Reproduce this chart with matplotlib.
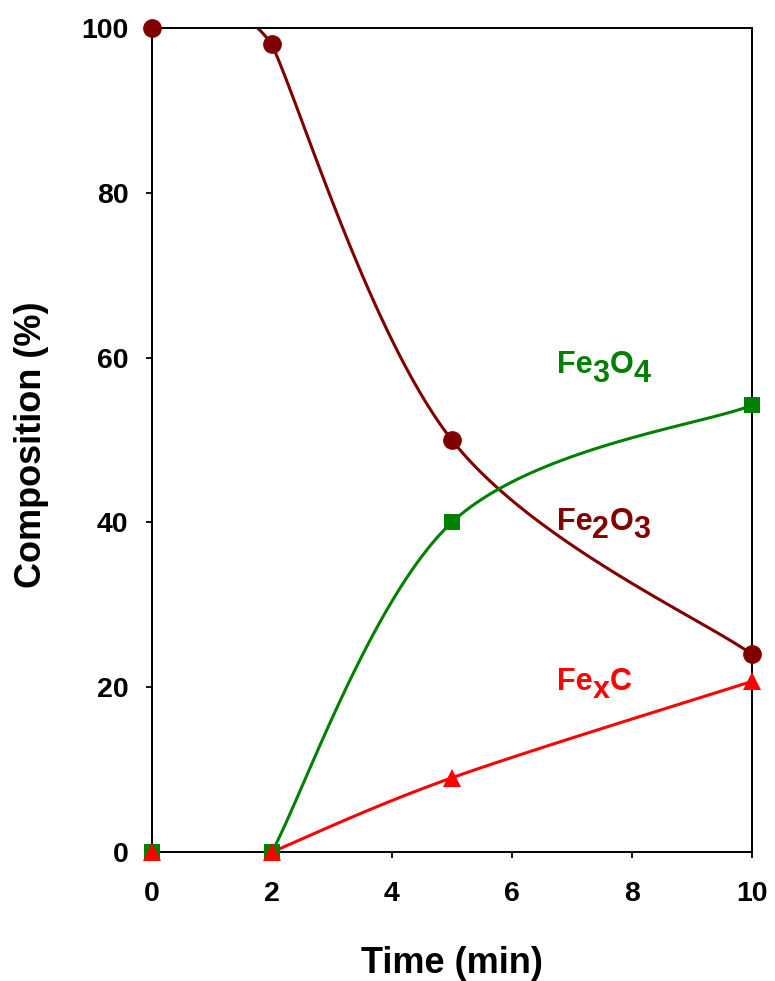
import numpy as np
import matplotlib
matplotlib.use("Agg")
import matplotlib.pyplot as plt

plt.rcParams['font.family'] = ['Liberation Sans', 'DejaVu Sans']
plt.rcParams['font.weight'] = 'bold'

time = [0, 2, 5, 10]
fe2o3 = [100, 98, 50, 24]
fe3o4 = [0, 0, 40, 54.2]
fexc = [0, 0, 9, 20.7]

labels = {
    'Fe2O3': [("Fe", 0), ("2", 1), ("O", 0), ("3", 1)],
    'Fe3O4': [("Fe", 0), ("3", 1), ("O", 0), ("4", 1)],
    'FexC': [("Fe", 0), ("x", 1), ("C", 0)],
}

x_ticks = [0, 2, 4, 6, 8, 10]
y_ticks = [0, 20, 40, 60, 80, 100]


def cr_segments(P, seg_idx=None, n=80):
    """Catmull-Rom (cardinal, tension 0.5) spline through display points P."""
    out = []
    t = np.linspace(0, 1, n)[:, None]
    h00 = 1 - 3 * t**2 + 2 * t**3
    h10 = t**3 - 2 * t**2 + t
    h01 = 3 * t**2 - 2 * t**3
    h11 = t**3 - t**2
    idx = range(len(P) - 1) if seg_idx is None else seg_idx
    for i in idx:
        p0 = P[i - 1] if i > 0 else P[i]
        p3 = P[i + 2] if i + 2 < len(P) else P[i + 1]
        m1 = 0.5 * (P[i + 1] - p0)
        m2 = 0.5 * (p3 - P[i])
        out.append(h00 * P[i] + h10 * m1 + h01 * P[i + 1] + h11 * m2)
    return out


fig = plt.figure(figsize=(7.75, 9.81), dpi=100)
ax = fig.add_axes([0.196, 0.1315, 0.774, 0.84])
ax.set_xlim(0, 10)
ax.set_ylim(0, 100)

c_dred = '#800000'; c_green = '#008000'; c_red = '#FF0000'

series = [(fe2o3, c_dred, 'o', 13.5), (fe3o4, c_green, 's', 11.5), (fexc, c_red, '^', 13.0)]
for yv, col, mk, ms in series:
    P = ax.transData.transform(np.column_stack([time, yv]))
    inv = ax.transData.inverted()
    # first segment uses all points, remaining segments start fresh at the second point
    segs = cr_segments(P, seg_idx=[0]) + cr_segments(P[1:])
    for s in segs:
        d = inv.transform(s)
        ax.plot(d[:, 0], d[:, 1], color=col, lw=2.2, zorder=2, solid_capstyle='butt')
    ax.plot(time, yv, linestyle='none', marker=mk, ms=ms, color=col,
            markeredgewidth=0, clip_on=False, zorder=4)

ax.set_xticks(x_ticks)
ax.set_yticks(y_ticks)
ax.tick_params(direction='out', length=4.5, width=1.3, labelsize=20.5)
ax.tick_params(axis='x', pad=16.5)
ax.tick_params(axis='y', pad=12.5)
for lab in ax.get_xticklabels() + ax.get_yticklabels():
    lab.set_fontweight('bold')
for s in ax.spines.values():
    s.set_linewidth(1.4)

ax.set_xlabel('Time (min)', fontsize=26, fontweight='bold')
ax.set_ylabel('Composition (%)', fontsize=26, fontweight='bold')
ax.xaxis.set_label_coords(0.5, -0.114)
ax.yaxis.set_label_coords(-0.172, 0.494)

renderer = fig.canvas.get_renderer()


def chem_label(x, y, parts, color, size=22):
    dx = 0.0
    for txt, sub in parts:
        dy = -8.5 if sub else 0.0
        t = ax.annotate(txt, xy=(x, y), xycoords='data', xytext=(dx, dy),
                        textcoords='offset pixels', color=color, fontsize=size,
                        fontweight='bold', ha='left', va='baseline')
        bb = t.get_window_extent(renderer)
        dx += bb.width


chem_label(6.75, 58.1, labels['Fe3O4'], c_green)
chem_label(6.75, 39.1, labels['Fe2O3'], c_dred)
chem_label(6.75, 19.7, labels['FexC'], c_red)

fig.savefig('out.png', dpi=100)
